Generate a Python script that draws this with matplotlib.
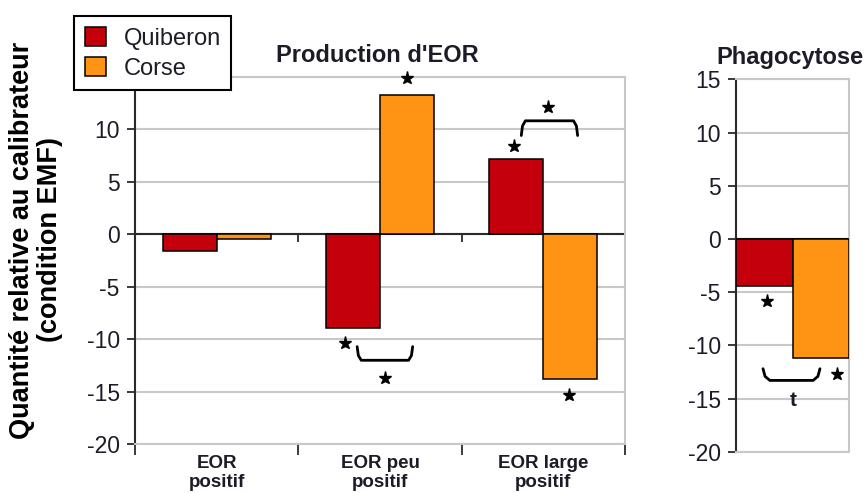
import numpy as np
import matplotlib
matplotlib.use("Agg")
import matplotlib.pyplot as plt
from matplotlib.patches import Patch

plt.rcParams['font.family'] = ['Liberation Sans', 'DejaVu Sans']

# ---- data ----
categories = ["EOR\npositif", "EOR peu\npositif", "EOR large\npositif"]
series = ["Quiberon", "Corse"]
eor_quiberon = [-1.6, -8.9, 7.2]
eor_corse = [-0.5, 13.3, -13.8]
phago_quiberon = [-4.4]
phago_corse = [-11.2]
yticks = [-20, -15, -10, -5, 0, 5, 10, 15]

RED = "#C3000B"
ORANGE = "#FF9414"
GRID = "#C8C8C8"
DARK = "#2a2a2a"
TXT = "#1c1c28"

fig = plt.figure(figsize=(8.65, 4.93), dpi=100)
ax1 = fig.add_axes([135/865, 48.7/493, 490/865, 367.6/493])
ax2 = fig.add_axes([736/865, 41.3/493, 113/865, 372.4/493])

def style(ax):
    ax.set_ylim(-20, 15)
    ax.set_yticks(yticks)
    ax.set_yticklabels([str(t) for t in yticks])
    ax.yaxis.grid(True, color=GRID, lw=1.5)
    ax.set_axisbelow(True)
    for s in ["top", "right", "bottom"]:
        ax.spines[s].set_color(GRID)
        ax.spines[s].set_linewidth(1.5)
    ax.spines["left"].set_color(DARK)
    ax.spines["left"].set_linewidth(1.5)
    ax.tick_params(axis="y", direction="out", length=6, width=1.3, color=DARK,
                   labelsize=16.5, labelcolor=TXT, pad=5)
    ax.axhline(0, color=DARK, lw=1.5, zorder=1)

# ---- left panel ----
x = np.arange(len(categories))
w = 0.33
ax1.bar(x - w/2, eor_quiberon, w, color=RED, edgecolor="black", lw=1.1, zorder=3)
ax1.bar(x + w/2, eor_corse, w, color=ORANGE, edgecolor="black", lw=1.1, zorder=3)
ax1.set_xlim(-0.5, len(categories) - 0.5)
style(ax1)
bounds = np.arange(len(categories) + 1) - 0.5
ax1.set_xticks(bounds)
ax1.set_xticklabels([""] * len(bounds))
ax1.set_xticks(x, minor=True)
ax1.set_xticklabels(categories, minor=True, fontsize=13.5, fontweight="bold", color=TXT,
                    linespacing=1.1)
ax1.tick_params(axis="x", which="major", direction="out", length=8, width=1.3, color=DARK)
ax1.tick_params(axis="x", which="minor", length=0, pad=8)
ax1.vlines(bounds[1:], -0.75, 0, color=DARK, lw=1.3, zorder=2)

def star(ax, xx, yy):
    ax.plot([xx], [yy], marker="*", ms=9.5, color="black", mec="black", zorder=5,
            clip_on=False)

def bracket(ax, x0, x1, ytip, ybar, r):
    # r: corner radius in x units; vertical hooks from ytip to ybar
    sgn = 1 if ybar > ytip else -1
    ry = abs(ybar - ytip) * 0.35
    xs = [x0, x0 + r*0.3, x0 + r, x1 - r, x1 - r*0.3, x1]
    ys = [ytip, ybar - sgn*ry, ybar, ybar, ybar - sgn*ry, ytip]
    ax.plot(xs, ys, color="black", lw=2.0, zorder=5, solid_joinstyle="round",
            solid_capstyle="round", clip_on=False)

# stars and brackets for EOR
star(ax1, x[1] + w/2, eor_corse[1] + 1.6)
star(ax1, x[1] - w/2 - 0.05, eor_quiberon[1] - 1.5)
bracket(ax1, x[1] - 0.14, x[1] + 0.2, eor_quiberon[1] - 1.8, eor_quiberon[1] - 3.1, 0.025)
star(ax1, x[1] + 0.03, eor_quiberon[1] - 4.8)
star(ax1, x[2] - w/2 - 0.015, eor_quiberon[2] + 1.2)
bracket(ax1, x[2] - 0.135, x[2] + 0.21, eor_quiberon[2] + 2.2, eor_quiberon[2] + 3.6, 0.025)
star(ax1, x[2] + 0.03, eor_quiberon[2] + 4.9)
star(ax1, x[2] + w/2 - 0.005, eor_corse[2] - 1.5)

# ---- right panel ----
ax2.bar([-0.25], phago_quiberon, 0.5, color=RED, edgecolor="black", lw=1.1, zorder=3)
ax2.bar([0.25], phago_corse, 0.5, color=ORANGE, edgecolor="black", lw=1.1, zorder=3)
ax2.set_xlim(-0.5, 0.5)
style(ax2)
ax2.set_xticks([])
star(ax2, -0.226, phago_quiberon[0] - 1.4)
star(ax2, 0.394, phago_corse[0] - 1.5)
bracket(ax2, -0.261, 0.243, phago_corse[0] - 1.0, phago_corse[0] - 2.1, 0.06)
ax2.text(0.004, phago_corse[0] - 4.0, "t", ha="center", va="center", fontsize=15,
         fontweight="bold", color=TXT)

# ---- titles / labels ----
fig.text(377/865, 1 - 62/493, "Production d'EOR", ha="center", va="baseline",
         fontsize=17, fontweight="bold", color=TXT)
fig.text(790/865, 1 - 64/493, "Phagocytose", ha="center", va="baseline",
         fontsize=17, fontweight="bold", color=TXT)
fig.text(36/865, 1 - 240/493, "Quantité relative au calibrateur\n(condition EMF)",
         rotation=90, ha="center", va="center", fontsize=19.5, fontweight="bold",
         color="black", linespacing=1.1)

handles = [Patch(facecolor=RED, edgecolor="black", lw=1.1),
           Patch(facecolor=ORANGE, edgecolor="black", lw=1.1)]
leg = fig.legend(handles, series, loc="upper left", bbox_to_anchor=(74/865, 1 - 16/493),
                 borderaxespad=0, fancybox=False, edgecolor="black", framealpha=1,
                 fontsize=17, handlelength=0.9, handleheight=0.9, handletextpad=0.75,
                 labelspacing=0.3, borderpad=0.45)
leg.get_frame().set_linewidth(1.5)
for t in leg.get_texts():
    t.set_color(TXT)

fig.savefig("out.png", dpi=100)
